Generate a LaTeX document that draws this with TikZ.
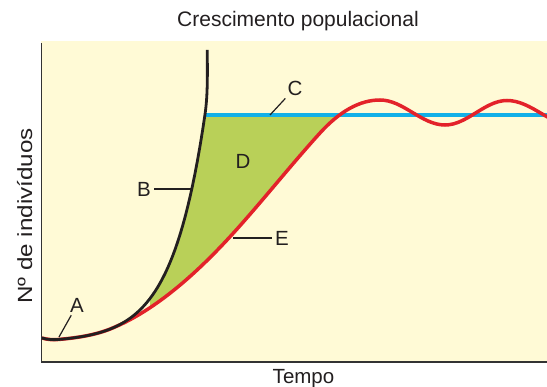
\documentclass[tikz,border=0pt]{standalone}
\usepackage{fontspec}
\setmainfont{Liberation Sans}
\definecolor{bgyellow}{HTML}{FFFAD6}
\definecolor{dgreen}{HTML}{B9D058}
\definecolor{cblue}{HTML}{12B0E8}
\definecolor{ered}{HTML}{E3222A}
\definecolor{axisgray}{HTML}{333333}
\definecolor{inkgray}{HTML}{231F20}

\begin{document}
\begin{tikzpicture}[x=1pt, y=-1pt, font=\fontsize{20.5}{24}\selectfont, text=inkgray,
	declare function={growth(\t)=339.5-2.77*(exp(0.03*(\t-58))-1);},
	letter/.style={inner sep=3pt},
	pointer/.style={line width=1.2pt, inkgray},
	axisline/.style={line width=1.7pt, axisgray}]
	\useasboundingbox (0,0) rectangle (547,387);
	\fill[bgyellow] (41,41) rectangle (547,362);
	% area D between the curves
	\begin{scope}
		\clip (42,338) .. controls (47,339.6) and (53,339.9) .. (58,339.5) -- plot[domain=58:205, samples=60] (\x,{growth(\x)}) .. controls (208,93.8) and (207.3,72) .. (207.3,50) -- (547,50) -- (547,370) -- (42,370) -- cycle;
		\clip (42,338) .. controls (47,339.6) and (53,339.9) .. (58,339.5) -- plot[domain=58:110, samples=30] (\x,{growth(\x)}) .. controls (151,312.7) and (192,278.6) .. (233,233.5) .. controls (262,201.6) and (291,164.9) .. (320,133) .. controls (340,111) and (360,100) .. (380,100) -- (547,100) -- (547,40) -- (42,40) -- cycle;
		\fill[dgreen] (150,115) rectangle (345,362);
	\end{scope}
	\coordinate (cStart) at (205.5,115);
	\coordinate (cEnd) at (547,115);
	\draw[cblue, line width=3.3pt] (cStart) -- (cEnd);
	\begin{scope}
		\clip (0,0) rectangle (547,387);
		\draw[ered, line width=3.5pt] (42,338) .. controls (47,339.6) and (53,339.9) .. (58,339.5) -- plot[domain=58:110, samples=30] (\x,{growth(\x)}) .. controls (151,312.7) and (192,278.6) .. (233,233.5) .. controls (262,201.6) and (291,164.9) .. (320,133) .. controls (340,111) and (360,100) .. (380,100) .. controls (403.4,100) and (421.6,125) .. (445,125) .. controls (467.3,125) and (484.7,100.5) .. (507,100.5) .. controls (531.5,100.5) and (550.5,126) .. (575,126);
	\end{scope}
	\draw[inkgray, line width=2.8pt] (42,338) .. controls (47,339.6) and (53,339.9) .. (58,339.5) -- plot[domain=58:205, samples=60] (\x,{growth(\x)}) .. controls (208,93.8) and (207.3,72) .. (207.3,50);
	\draw[axisline] (41.5,43) -- (41.5,362) -- (547,362);
	% labels
	\node[anchor=base, font=\fontsize{21}{25}\selectfont] (title) at (298,27) {Crescimento populacional};
	\node[anchor=base] (xlab) at (303.5,383.5) {Tempo};
	\node[anchor=base, rotate=90] (ylab) at (32,216) {\scalebox{1.18}[1]{Nº de indivíduos}};
	\coordinate (ptA) at (59,337);
	\coordinate (ptB) at (193,189);
	\coordinate (ptC) at (270,115);
	\coordinate (ptE) at (233,238);
	\node[letter] (labA) at (77,305) {A};
	\node[letter] (labB) at (144,189) {B};
	\node[letter] (labC) at (295,88) {C};
	\node[letter] (labD) at (243,161) {D};
	\node[letter] (labE) at (282,238) {E};
	\draw[pointer] (ptA) -- (labA);
	\draw[pointer] (ptB) -- (labB);
	\draw[pointer] (ptC) -- (labC);
	\draw[pointer] (ptE) -- (labE);
\end{tikzpicture}
\end{document}
